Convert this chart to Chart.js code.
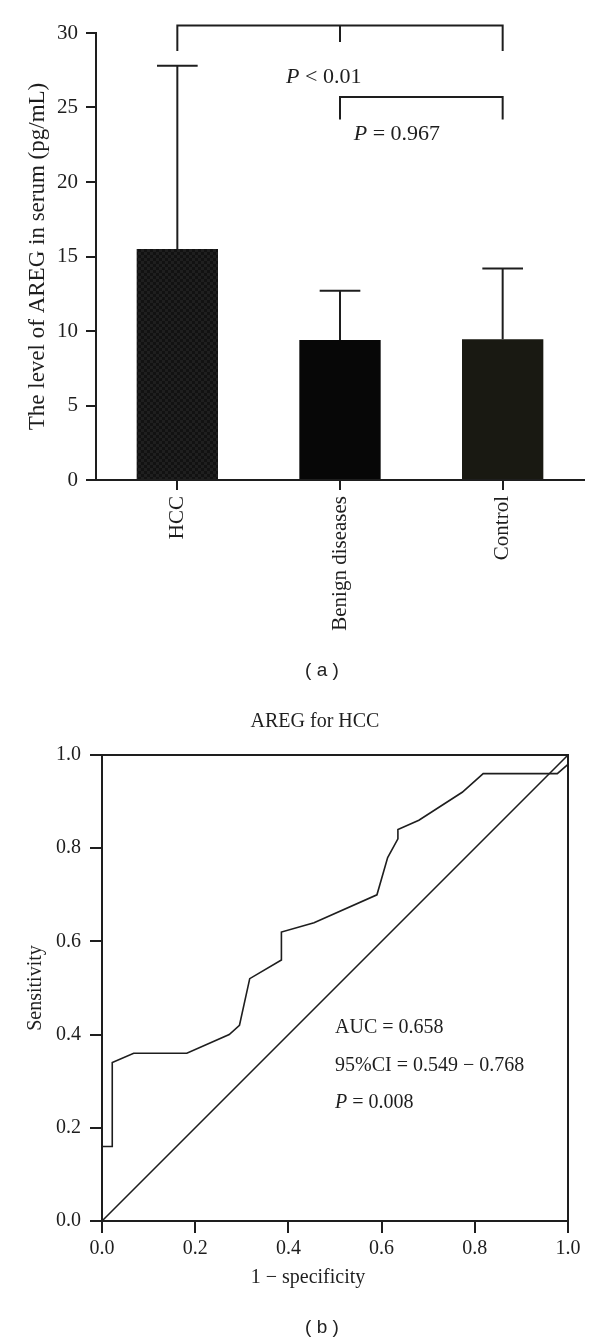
<!DOCTYPE html>
<html>
<head>
<meta charset="utf-8">
<script src="https://cdn.jsdelivr.net/npm/chart.js@4"></script>
<style>
  body { margin: 0; background: #fff; width: 600px; height: 1342px; overflow: hidden; position: relative; }
  #wrapA { position: absolute; left: 0; top: 0; width: 600px; height: 700px; }
  #wrapB { position: absolute; left: 0; top: 690px; width: 600px; height: 652px; }
  .cap { position: absolute; font: 19px "Liberation Sans", Arial, sans-serif; color: #222; transform: translate(-50%, -50%); white-space: pre; }
</style>
</head>
<body>
<div id="wrapA"><canvas id="chartA"></canvas></div>
<div id="wrapB"><canvas id="chartB"></canvas></div>
<div class="cap" style="left:322px; top:670px">( a )</div>
<div class="cap" style="left:322px; top:1327px">( b )</div>
<script>
const GROUPS = ['HCC', 'Benign diseases', 'Control'];
const MEANS = [15.5, 9.4, 9.45];
const SD = [12.3, 3.3, 4.75];
const BAR_COLORS = ['#151515', '#070707', '#191912'];

// significance brackets (category index, value units)
const BRACKETS = [
  { from: 0, to: 2, mid: 1, y: 30.5, leg: 28.8, midLeg: 29.4 },
  { from: 1, to: 2, y: 25.7, leg: 24.2 },
];
const P_LABELS = [
  { x: 0.9,  y: 27.0, rest: ' < 0.01' },
  { x: 1.35, y: 23.2, rest: ' = 0.967' },
];

// ROC curve
const ROC_X = [0, 0, 0.022, 0.022, 0.068, 0.182, 0.273, 0.295, 0.317, 0.385, 0.385, 0.455, 0.59, 0.613, 0.635, 0.635, 0.68, 0.773, 0.818, 0.977, 1.0, 1.0];
const ROC_Y = [0, 0.16, 0.16, 0.34, 0.36, 0.36, 0.40, 0.42, 0.52, 0.56, 0.62, 0.64, 0.70, 0.78, 0.82, 0.84, 0.86, 0.92, 0.96, 0.96, 0.98, 1.0];
const DIAG_X = [0, 1];
const DIAG_Y = [0, 1];
const ROC_NOTES = [
  { x: 0.5, y: 0.415, p: '', text: 'AUC = 0.658' },
  { x: 0.5, y: 0.334, p: '', text: '95%CI = 0.549 \u2212 0.768' },
  { x: 0.5, y: 0.253, p: 'P', text: ' = 0.008' },
];

const INK = '#1e1e1e';
const SERIF = '"Liberation Serif", "Times New Roman", serif';

// faint checker texture seen on the HCC bar
function checker(a, b) {
  const c = document.createElement('canvas');
  c.width = c.height = 6;
  const g = c.getContext('2d');
  g.fillStyle = a; g.fillRect(0, 0, 6, 6);
  g.fillStyle = b; g.fillRect(0, 0, 3, 3); g.fillRect(3, 3, 3, 3);
  return g.createPattern(c, 'repeat');
}
BAR_COLORS[0] = checker('#121212', '#1f1f1f');

function italicP(ctx, x, y, p, rest, size, align) {
  ctx.font = 'italic ' + size + 'px ' + SERIF;
  const wp = p ? ctx.measureText(p).width : 0;
  ctx.font = size + 'px ' + SERIF;
  const wr = ctx.measureText(rest).width;
  let x0 = align === 'center' ? x - (wp + wr) / 2 : x;
  ctx.textAlign = 'left';
  ctx.textBaseline = 'middle';
  if (p) {
    ctx.font = 'italic ' + size + 'px ' + SERIF;
    ctx.fillText(p, x0, y);
  }
  ctx.font = size + 'px ' + SERIF;
  ctx.fillText(rest, x0 + wp, y);
}

const errorBars = {
  id: 'errorBars',
  afterDatasetsDraw(chart) {
    const { ctx, scales: { x, y } } = chart;
    const meta = chart.getDatasetMeta(0);
    ctx.save();
    ctx.strokeStyle = INK;
    ctx.lineWidth = 2;
    meta.data.forEach((bar, i) => {
      const top = y.getPixelForValue(MEANS[i] + SD[i]);
      ctx.beginPath();
      ctx.moveTo(bar.x, bar.y);
      ctx.lineTo(bar.x, top);
      ctx.moveTo(bar.x - bar.width / 4, top);
      ctx.lineTo(bar.x + bar.width / 4, top);
      ctx.stroke();
    });
    // brackets
    BRACKETS.forEach(b => {
      const x1 = x.getPixelForValue(b.from), x2 = x.getPixelForValue(b.to);
      const yt = y.getPixelForValue(b.y), yl = y.getPixelForValue(b.leg);
      ctx.beginPath();
      ctx.moveTo(x1, yl); ctx.lineTo(x1, yt); ctx.lineTo(x2, yt); ctx.lineTo(x2, yl);
      if (b.mid !== undefined) {
        const xm = x.getPixelForValue(b.mid);
        ctx.moveTo(xm, yt); ctx.lineTo(xm, y.getPixelForValue(b.midLeg));
      }
      ctx.stroke();
    });
    ctx.fillStyle = INK;
    P_LABELS.forEach(l => {
      const px = x.getPixelForValue(0) + (x.getPixelForValue(1) - x.getPixelForValue(0)) * l.x;
      italicP(ctx, px, y.getPixelForValue(l.y), 'P', l.rest, 22, 'center');
    });
    ctx.restore();
  }
};

new Chart(document.getElementById('chartA'), {
  type: 'bar',
  data: {
    labels: GROUPS,
    datasets: [{
      data: MEANS,
      backgroundColor: BAR_COLORS,
      borderWidth: 0,
      barPercentage: 0.5,
      categoryPercentage: 1,
    }]
  },
  options: {
    responsive: true,
    maintainAspectRatio: false,
    animation: false,
    layout: { padding: { top: 33, right: 16, left: 0, bottom: 0 } },
    plugins: { legend: { display: false }, tooltip: { enabled: false } },
    scales: {
      x: {
        offset: true,
        afterFit: s => { s.height = 220; },
        border: { color: INK, width: 2 },
        grid: { offset: false, drawOnChartArea: false, tickLength: 10, color: INK, lineWidth: 2 },
        ticks: { color: INK, font: { family: SERIF, size: 21 }, maxRotation: 90, minRotation: 90, autoSkip: false, padding: 6 }
      },
      y: {
        min: 0, max: 30,
        afterFit: s => { s.width = 96; },
        border: { color: INK, width: 2 },
        grid: { drawOnChartArea: false, tickLength: 10, color: INK, lineWidth: 2 },
        ticks: { stepSize: 5, color: INK, font: { family: SERIF, size: 21 }, padding: 8 },
        title: { display: true, text: 'The level of AREG in serum (pg/mL)', color: INK, font: { family: SERIF, size: 23 }, padding: { top: 24 } }
      }
    }
  },
  plugins: [errorBars]
});

const rocDecor = {
  id: 'rocDecor',
  afterDraw(chart) {
    const { ctx, chartArea: a, scales: { x, y } } = chart;
    ctx.save();
    ctx.strokeStyle = INK;
    ctx.lineWidth = 2;
    ctx.beginPath();
    ctx.moveTo(a.left, a.top); ctx.lineTo(a.right, a.top); ctx.lineTo(a.right, a.bottom);
    ctx.stroke();
    ctx.fillStyle = INK;
    ctx.textAlign = 'center';
    ctx.textBaseline = 'middle';
    ctx.font = '20px ' + SERIF;
    ctx.fillText('AREG for HCC', 315, 32);
    ctx.fillText('1 \u2212 specificity', 308, 588);
    ROC_NOTES.forEach(n => {
      italicP(ctx, x.getPixelForValue(n.x), y.getPixelForValue(n.y), n.p, n.text, 20, 'left');
    });
    ctx.restore();
  }
};

const tick1 = v => Number(v).toFixed(1);

new Chart(document.getElementById('chartB'), {
  type: 'line',
  data: {
    datasets: [
      { data: ROC_X.map((v, i) => ({ x: v, y: ROC_Y[i] })), borderColor: INK, borderWidth: 1.6, pointRadius: 0, tension: 0, clip: 4 },
      { data: DIAG_X.map((v, i) => ({ x: v, y: DIAG_Y[i] })), borderColor: INK, borderWidth: 1.6, pointRadius: 0, tension: 0, clip: 4 },
    ]
  },
  options: {
    responsive: true,
    maintainAspectRatio: false,
    animation: false,
    layout: { padding: { top: 65, right: 32, left: 0, bottom: 0 } },
    plugins: { legend: { display: false }, tooltip: { enabled: false } },
    scales: {
      x: {
        type: 'linear', min: 0, max: 1,
        afterFit: s => { s.height = 121; },
        border: { color: INK, width: 2 },
        grid: { drawOnChartArea: false, tickLength: 12, color: INK, lineWidth: 2 },
        ticks: { stepSize: 0.2, callback: tick1, color: INK, font: { family: SERIF, size: 20 }, padding: 4 }
      },
      y: {
        type: 'linear', min: 0, max: 1,
        afterFit: s => { s.width = 102; },
        border: { color: INK, width: 2 },
        grid: { drawOnChartArea: false, tickLength: 12, color: INK, lineWidth: 2 },
        ticks: { stepSize: 0.2, callback: tick1, color: INK, font: { family: SERIF, size: 20 }, padding: 9 },
        title: { display: true, text: 'Sensitivity', color: INK, font: { family: SERIF, size: 20 }, padding: { top: 24 } }
      }
    }
  },
  plugins: [rocDecor]
});
</script>
</body>
</html>
